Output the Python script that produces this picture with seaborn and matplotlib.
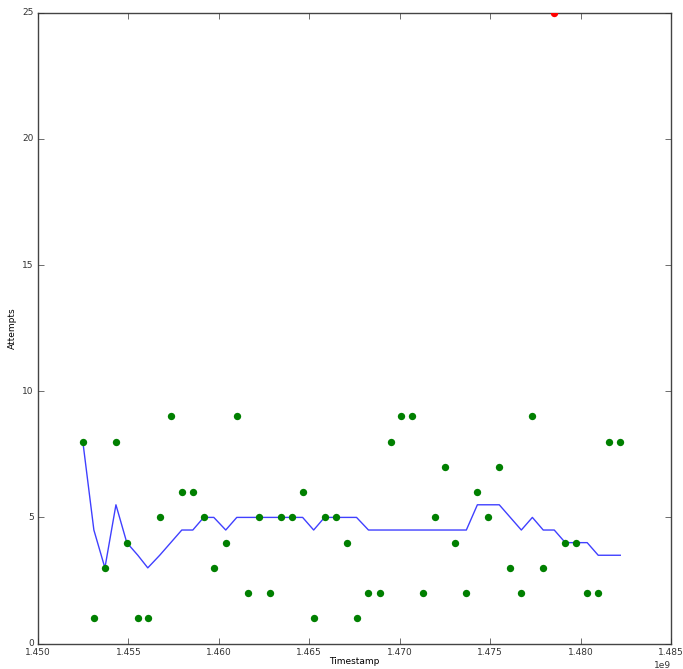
import matplotlib
matplotlib.use("Agg")
import matplotlib.pyplot as plt
import seaborn as sns
import pandas as pd

# weekly attempts (timestamps in seconds)
timestamps = [
    1452480000, 1453090000, 1453700000, 1454310000, 1454910000, 1455520000,
    1456070000, 1456730000, 1457340000, 1457950000, 1458560000, 1459160000,
    1459720000, 1460380000, 1460990000, 1461590000, 1462200000, 1462810000,
    1463410000, 1464020000, 1464630000, 1465240000, 1465840000, 1466450000,
    1467060000, 1467610000, 1468270000, 1468880000, 1469490000, 1470090000,
    1470700000, 1471310000, 1471920000, 1472520000, 1473080000, 1473680000,
    1474290000, 1474900000, 1475500000, 1476110000, 1476720000, 1477330000,
    1477930000, 1478540000, 1479150000, 1479760000, 1480360000, 1480970000,
    1481580000, 1482190000,
]
attempts = [
    8, 1, 3, 8, 4, 1, 1, 5, 9, 6, 6, 5, 3, 4, 9, 2, 5, 2, 5, 5, 6, 1, 5, 5,
    4, 1, 2, 2, 8, 9, 9, 2, 5, 7, 4, 2, 6, 5, 7, 3, 2, 9, 3, 25, 4, 4, 2, 2,
    8, 8,
]
# rolling median as drawn
median_line = [
    8, 4.5, 3, 5.5, 4, 3.5, 3, 3.5, 4, 4.5, 4.5, 5, 5, 4.5, 5, 5, 5, 5, 5, 5,
    5, 4.5, 5, 5, 5, 5, 4.5, 4.5, 4.5, 4.5, 4.5, 4.5, 4.5, 4.5, 4.5, 4.5, 5.5,
    5.5, 5.5, 5, 4.5, 5, 4.5, 4.5, 4, 4, 4, 3.5, 3.5, 3.5,
]
outlier_idx = [43]

df = pd.DataFrame({"Timestamp": timestamps, "Attempts": attempts, "median": median_line})
df["outlier"] = df.index.isin(outlier_idx)

plt.style.use("classic")
fig = plt.figure(figsize=(6.83, 6.69), dpi=100, facecolor="white")
ax = fig.add_axes([0.0556, 0.038, 0.927, 0.943])

sns.lineplot(data=df, x="Timestamp", y="median", color="b", alpha=0.75, linewidth=1.0, ax=ax)
normal = df[~df["outlier"]]
out = df[df["outlier"]]
sns.scatterplot(data=normal, x="Timestamp", y="Attempts", color="g", s=28, linewidth=0, ax=ax, zorder=3)
sns.scatterplot(data=out, x="Timestamp", y="Attempts", color="r", s=28, linewidth=0, ax=ax, zorder=3)

ax.set_xlim(1.450e9, 1.485e9)
ax.set_ylim(0, 25)
ax.set_xticks([1.450e9 + i * 0.005e9 for i in range(8)])
ax.set_yticks([0, 5, 10, 15, 20, 25])
ax.ticklabel_format(axis="x", style="sci", scilimits=(0, 0), useOffset=False)
ax.tick_params(labelsize=6.5, colors="#333333", pad=3)
ax.xaxis.get_offset_text().set_fontsize(6.5)
ax.xaxis.get_offset_text().set_color("#333333")
ax.xaxis.get_offset_text().set_horizontalalignment("right")
ax.set_xlabel("Timestamp", fontsize=6.5, labelpad=0)
ax.set_ylabel("Attempts", fontsize=6.5, labelpad=4)
for s in ax.spines.values():
    s.set_color("#444444")

fig.savefig("out.png", dpi=100, facecolor="white")
